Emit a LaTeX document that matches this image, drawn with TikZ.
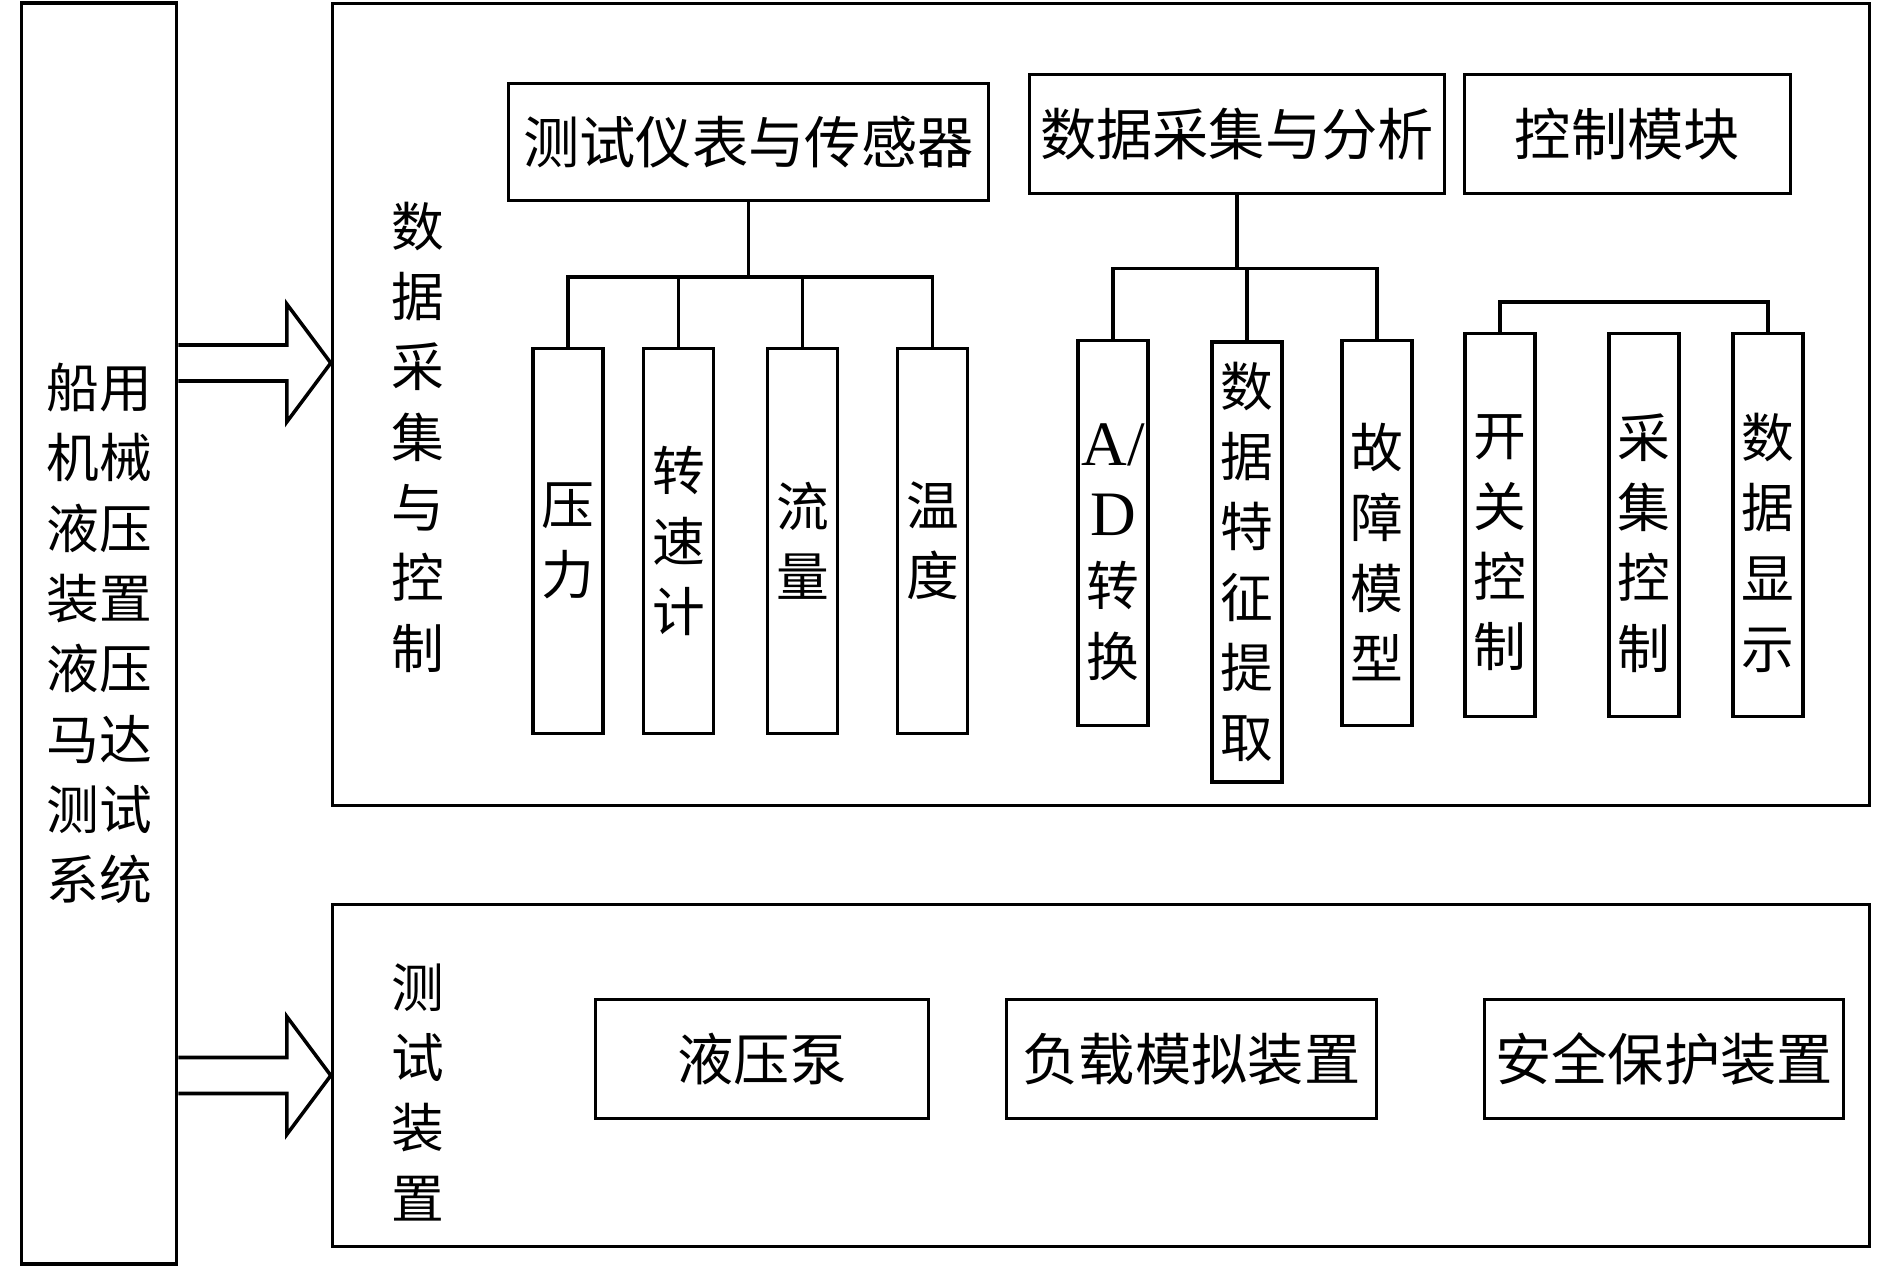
\documentclass[tikz,border=0pt]{standalone}
\usepackage{fontspec}
\setmainfont{Liberation Serif}
\newfontfamily\cjk{Noto Sans CJK SC}
\usetikzlibrary{calc,positioning}

\tikzset{
  line/.style={line width=1pt},
  frame/.style={draw, line width=1pt, inner sep=0pt},
  box/.style={draw, line width=1pt, inner sep=0pt, minimum height=1.19cm,
    font=\cjk\fontsize{16}{20}\selectfont},
  vbox/.style={draw, line width=1pt, inner sep=0pt, minimum width=0.70cm,
    minimum height=3.85cm, align=center, font=\cjk\fontsize{15}{20}\selectfont},
  vlabel/.style={align=center, inner sep=0pt, font=\cjk\fontsize{15}{20}\selectfont},
  bigarrow/.style={line width=1pt, line join=miter},
}

\begin{document}
\begin{tikzpicture}[x=0.01cm, y=-0.01cm]
\useasboundingbox (0,0) rectangle (1890,1267);

% outer frames
\node[frame, minimum width=1.55cm, minimum height=12.60cm, align=center,
  font=\cjk\fontsize{15}{20}\selectfont] (sys) at (99,633.5)
  {船用\\机械\\液压\\装置\\液压\\马达\\测试\\系统};
\node[frame, minimum width=15.36cm, minimum height=8.02cm] (acq) at (1101,404.5) {};
\node[frame, minimum width=15.36cm, minimum height=3.42cm] (dev) at (1101,1075.5) {};
\node[vlabel] (acqlbl) at (418,437) {数\\据\\采\\集\\与\\控\\制};
\node[vlabel] (devlbl) at (418,1092) {测\\试\\装\\置};

% block arrows
\coordinate (tipa) at (acq.west |- 0,363);
\coordinate (tipb) at (dev.west);
\foreach \t in {tipa,tipb}{
  \draw[bigarrow] ($(sys.east|-\t)+(0,-18)$) -- ($(\t)+(-44,-18)$)
    -- ($(\t)+(-44,-59)$) -- (\t) -- ($(\t)+(-44,59)$)
    -- ($(\t)+(-44,18)$) -- ($(sys.east|-\t)+(0,18)$);
}

% upper modules
\node[box, minimum width=4.80cm, minimum height=1.17cm] (sens) at (748.5,142) {测试仪表与传感器};
\node[box, minimum width=4.15cm] (daq) at (1237,134) {数据采集与分析};
\node[box, minimum width=3.26cm] (ctrl) at (1627.5,134) {控制模块};

\foreach \n/\x/\txt in {p1/568/{压\\力}, p2/678.5/{转\\速\\计},
    p3/802.5/{流\\量}, p4/932.5/{温\\度}}
  \node[vbox] (\n) at (\x,541) {\txt};

\node[vbox, label={[vlabel, yshift=-0.19cm]center:{\rmfamily\fontsize{18}{20}\selectfont A/}\\%
  {\rmfamily\fontsize{18}{20}\selectfont D}\\转\\换}] (d1) at (1113,533) {};
\node[vbox, minimum height=4.40cm] (d2) at (1247,562) {数\\据\\特\\征\\提\\取};
\node[vbox, label={[vlabel, yshift=-0.19cm]center:故\\障\\模\\型}] (d3) at (1377,533) {};

\foreach \n/\x/\txt in {c1/1500/{开\\关\\控\\制}, c2/1644/{采\\集\\控\\制},
    c3/1768/{数\\据\\显\\示}}
  \node[vbox, minimum height=3.83cm, label={[vlabel, yshift=-0.18cm]center:\txt}]
    (\n) at (\x,525) {};

% tree links
\coordinate (pbus) at (0,277);
\coordinate (dbus) at (0,268.5);
\coordinate (cbus) at (0,302);
\draw[line] (sens.south) -- (sens.south |- pbus);
\draw[line] (p1.north) -- (p1.north |- pbus) -| (p4.north);
\draw[line] (p2.north) -- (p2.north |- pbus);
\draw[line] (p3.north) -- (p3.north |- pbus);
\draw[line] (daq.south) -- (daq.south |- dbus);
\draw[line] (d1.north) -- (d1.north |- dbus) -| (d3.north);
\draw[line] (d2.north) -- (d2.north |- dbus);
\draw[line] (c1.north) -- (c1.north |- cbus) -| (c3.north);

% test devices
\node[box, minimum width=3.33cm] (pump) at (762,1059) {液压泵};
\node[box, minimum width=3.70cm] (load) at (1191.5,1059) {负载模拟装置};
\node[box, minimum width=3.59cm] (safe) at (1664,1059) {安全保护装置};
\end{tikzpicture}
\end{document}
